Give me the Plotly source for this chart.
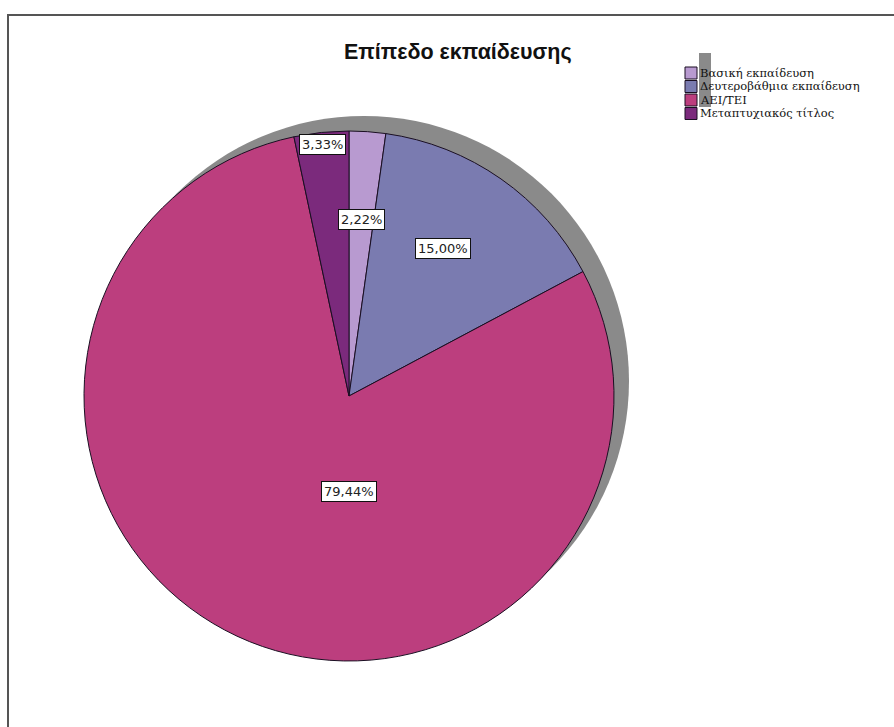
import math
import plotly.graph_objects as go

# Education level of respondents (counts, n = 180)
categories = ["Βασική εκπαίδευση", "Δευτεροβάθμια εκπαίδευση", "ΑΕΙ/ΤΕΙ", "Μεταπτυχιακός τίτλος"]
counts = [4, 27, 143, 6]
colors = ["#b89ad0", "#7a7bb0", "#bc3e7e", "#7b2a7c"]

W, H = 894, 727
CX, CY, R = 349, 396, 265          # pie centre / radius in pixels
SHADOW_DX, SHADOW_DY = 15, -15     # drop-shadow offset


def px(x):
    return x / W


def py(y):
    return 1 - y / H


total = sum(counts)
shares = [c / total * 100 for c in counts]
label_texts = [f"{s:.2f}%".replace(".", ",") for s in shares]

fig = go.Figure()
fig.add_trace(go.Pie(
    labels=categories,
    values=counts,
    sort=False,
    direction="clockwise",
    rotation=0,
    marker=dict(colors=colors, line=dict(color="#1a0f22", width=1)),
    textinfo="none",
    hoverinfo="label+percent",
    showlegend=False,
    domain=dict(x=[px(CX - R), px(CX + R)], y=[py(CY + R), py(CY - R)]),
))

shapes = []
# outer frame of the chart area
shapes.append(dict(type="rect", xref="paper", yref="paper",
                   x0=px(8), x1=px(W + 20), y0=py(H + 20), y1=py(15),
                   line=dict(color="#555555", width=2), fillcolor="rgba(0,0,0,0)",
                   layer="above"))
# gray drop shadow behind the pie
shapes.append(dict(type="circle", xref="paper", yref="paper",
                   x0=px(CX - R + SHADOW_DX), x1=px(CX + R + SHADOW_DX),
                   y0=py(CY + R + SHADOW_DY), y1=py(CY - R + SHADOW_DY),
                   line=dict(width=0), fillcolor="#8a8a8a", layer="below"))

annotations = []
# percentage labels placed along each slice's mid angle
label_radius = [0.666, 0.66, 0.36, 0.955]
label_angle_override = [None, 32.6, 180, None]
cum = 0.0
for i, s in enumerate(shares):
    mid = (cum + s / 2) / 100 * 360
    cum += s
    ang = label_angle_override[i] if label_angle_override[i] is not None else mid
    a = math.radians(ang)
    lx = CX + label_radius[i] * R * math.sin(a)
    ly = CY - label_radius[i] * R * math.cos(a)
    annotations.append(dict(
        x=px(lx), y=py(ly), xref="paper", yref="paper", showarrow=False,
        text=label_texts[i],
        font=dict(family="DejaVu Sans, Arial", size=13, color="#222222"),
        bgcolor="white", bordercolor="#111111", borderwidth=1, borderpad=2,
        xanchor="center", yanchor="middle",
    ))

# title
annotations.append(dict(
    x=px(458), y=py(52), xref="paper", yref="paper", showarrow=False,
    text="<b>Επίπεδο εκπαίδευσης</b>",
    font=dict(family="Liberation Sans, Arial", size=21.5, color="#111111"),
    xanchor="center", yanchor="middle",
))

# legend: swatch column with its shadow, then the category names
LX, LY0, SW, STEP = 685, 67, 12, 13.5
shapes.append(dict(type="rect", xref="paper", yref="paper",
                   x0=px(LX + 14), x1=px(LX + SW + 14),
                   y0=py(LY0 + STEP * len(categories) - 14), y1=py(LY0 - 14),
                   line=dict(width=0), fillcolor="#8a8a8a", layer="below"))
for i, (name, col) in enumerate(zip(categories, colors)):
    top = LY0 + i * STEP
    shapes.append(dict(type="rect", xref="paper", yref="paper",
                       x0=px(LX), x1=px(LX + SW), y0=py(top + SW), y1=py(top),
                       line=dict(color="#1a0f22", width=1), fillcolor=col,
                       layer="above"))
    annotations.append(dict(
        x=px(LX + SW + 1), y=py(top + SW / 2), xref="paper", yref="paper",
        showarrow=False, text=name,
        font=dict(family="DejaVu Serif, serif", size=11.5, color="#111111"),
        xanchor="left", yanchor="middle",
    ))

fig.update_layout(
    width=W, height=H,
    margin=dict(l=0, r=0, t=0, b=0),
    paper_bgcolor="white", plot_bgcolor="white",
    shapes=shapes, annotations=annotations,
)

fig.write_html("out.html")
